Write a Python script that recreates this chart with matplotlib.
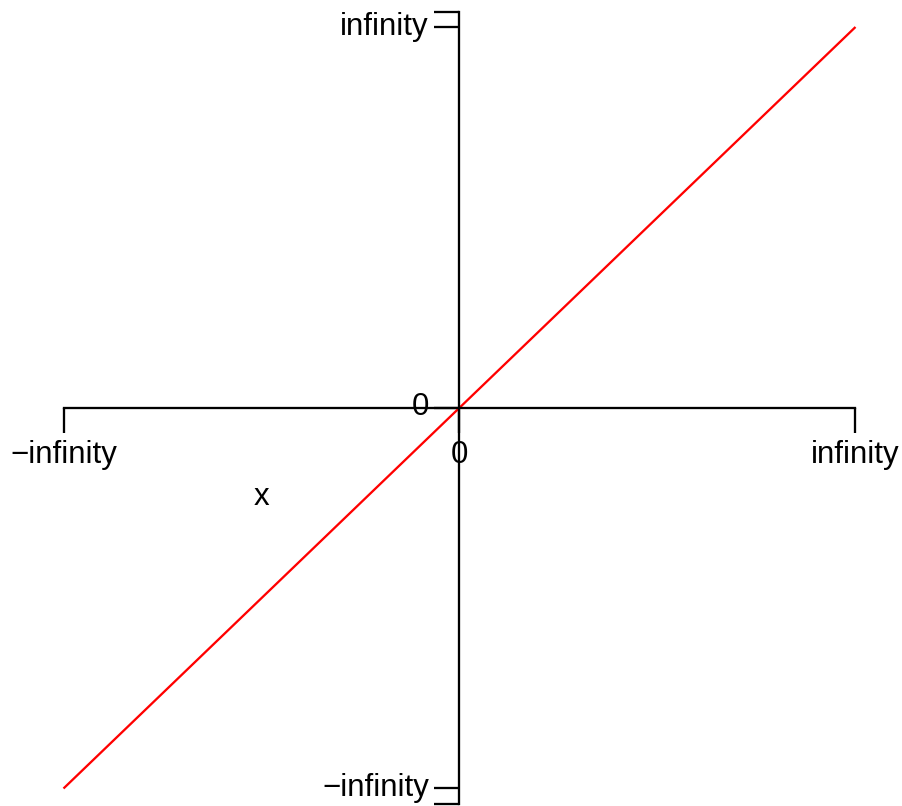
import matplotlib
matplotlib.use('Agg')
import matplotlib.pyplot as plt
import matplotlib.transforms as mtransforms

plt.rcParams['font.family'] = ['Liberation Sans', 'DejaVu Sans']

# identity line from -infinity to infinity (scaled to -1..1)
x_vals = [-1, 0, 1]
y_vals = [-1, 0, 1]

x_ticks = [-1, 0, 1]
x_labels = ['\u2212infinity', '0', 'infinity']
y_ticks = [-1.0394, -1, 0, 1, 1.0394]
y_labels = ['', '\u2212infinity', '0', 'infinity', '']

fig = plt.figure(figsize=(9.03, 8.06), dpi=100)
ax = fig.add_axes([63.5 / 903, 2.5 / 806, 792 / 903, 791.5 / 806])
ax.set_xlim(-1, 1)
ax.set_ylim(-1.0394, 1.0394)

ax.plot(x_vals, y_vals, color='red', lw=1.65, clip_on=False, solid_capstyle='butt')

for s in ['top', 'right']:
    ax.spines[s].set_visible(False)
ax.spines['left'].set_position(('data', 0))
ax.spines['bottom'].set_position(('data', 0))
ax.spines['bottom'].set_bounds(-1, 1)
for s in ['left', 'bottom']:
    ax.spines[s].set_linewidth(1.65)

ax.set_xticks(x_ticks)
ax.set_xticklabels(x_labels)
ax.set_yticks(y_ticks)
ax.set_yticklabels(y_labels)
ax.tick_params(axis='both', direction='out', length=18, width=1.65, labelsize=22.5)
ax.tick_params(axis='x', pad=5.5)
ax.tick_params(axis='y', pad=4)

# y labels sit a few pixels above their ticks in the original
shift = mtransforms.ScaledTranslation(0, 4 / 100, fig.dpi_scale_trans)
for lab in ax.get_yticklabels():
    lab.set_transform(lab.get_transform() + shift)

ax.text(-0.5, -0.234, 'x', fontsize=22.5, ha='center', va='center')

ax.patch.set_visible(False)
fig.savefig('out.png', dpi=100)
